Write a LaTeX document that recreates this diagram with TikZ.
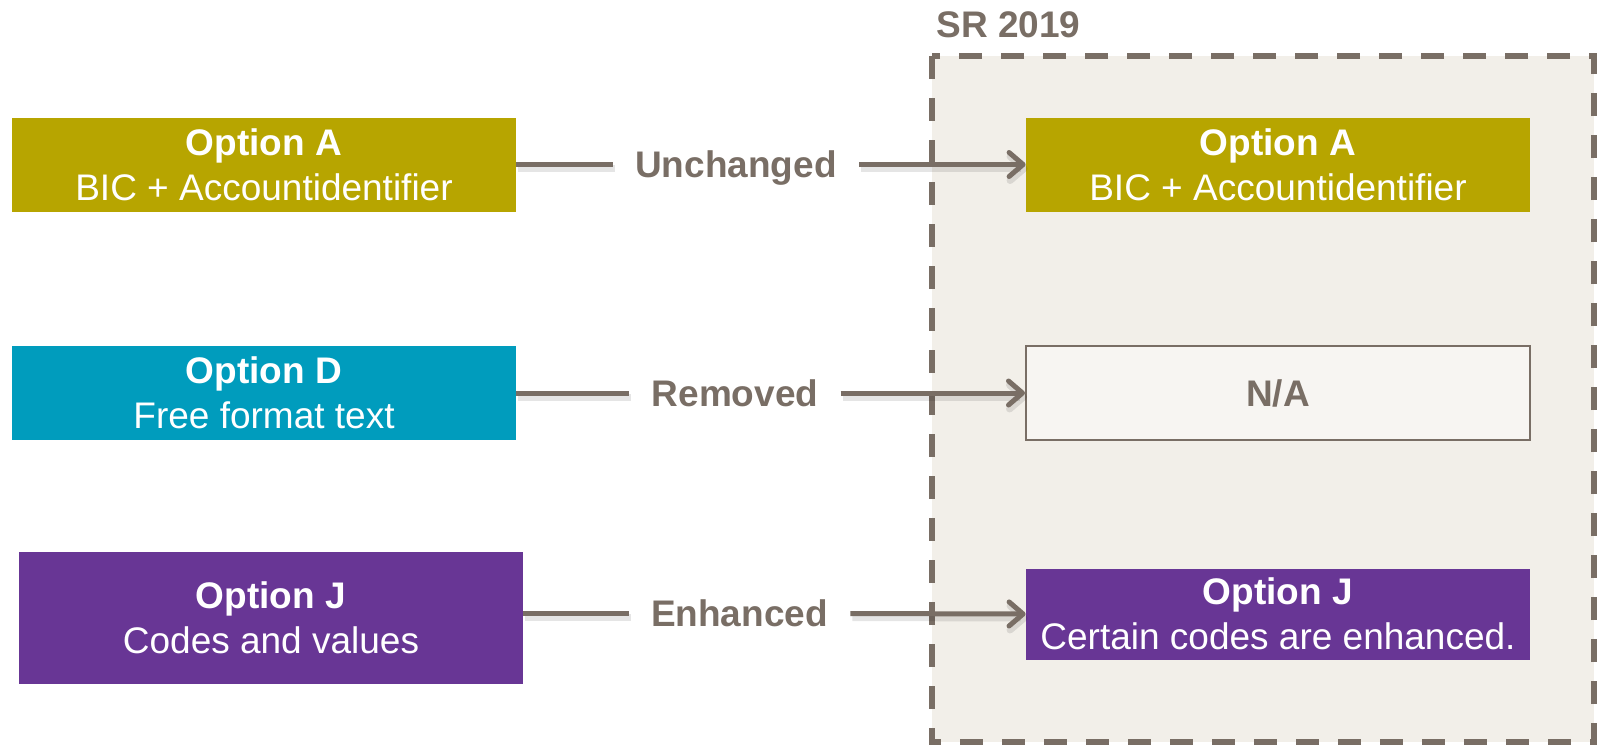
\documentclass[tikz,border=0pt]{standalone}
\usepackage{fontspec}
\setmainfont{Liberation Sans}
\usetikzlibrary{arrows.meta,calc}
\definecolor{cOlive}{HTML}{B7A500}
\definecolor{cTeal}{HTML}{009CBD}
\definecolor{cPurple}{HTML}{683695}
\definecolor{cGrey}{HTML}{796E65}
\definecolor{cBg}{HTML}{F2EFE9}
\begin{document}
\begin{tikzpicture}[x=0.5pt,y=-0.5pt,
  box/.style={rectangle, inner sep=0pt, text=white, align=center,
    font=\fontsize{18.5}{22.5}\selectfont, minimum width=252pt, minimum height=47pt},
  lbl/.style={inner ysep=0pt, inner xsep=11pt, text=cGrey,
    font=\fontsize{18.5}{22.5}\selectfont\bfseries, text height=13.3pt, text depth=0pt},
  conn/.style={draw=cGrey, line width=2.5pt,
    preaction={draw=black, opacity=0.10, line width=3.5pt, transform canvas={shift={(1pt,-2pt)}}}},
  tip/.style={-{Straight Barb[length=7pt,width=12pt,round]}}
]
\useasboundingbox (0,0) rectangle (1602,745);
% SR 2019 area
\draw[cGrey, fill=cBg, line width=3pt, dash pattern=on 11.5pt off 9.5pt] (932,56) rectangle (1594,742);
\node[anchor=base west, text=cGrey, font=\fontsize{18.5}{22.5}\selectfont\bfseries, inner sep=0pt] (sr) at (936,37) {SR 2019};

% left boxes
\node[box, fill=cOlive] (lA) at (264,164.5) {\textbf{Option A}\\BIC + Accountidentifier};
\node[box, fill=cTeal] (lD) at (264,393) {\textbf{Option D}\\Free format text};
\node[box, fill=cPurple, minimum height=66pt] (lJ) at (271,618) {\textbf{Option J}\\Codes and values};

% right boxes
\node[box, fill=cOlive] (rA) at (1278,164.5) {\textbf{Option A}\\BIC + Accountidentifier};
\node[box, fill=cBg!60!white, draw=cGrey, line width=1pt, text=cGrey, font=\fontsize{18.5}{22.5}\selectfont\bfseries] (rD) at (1278,393) {N/A};
\node[box, fill=cPurple, minimum height=45.5pt] (rJ) at (1278,614) {\textbf{Option J}\\Certain codes are enhanced.};

% labels
\node[lbl] (uA) at (736,164.5) {Unchanged};
\node[lbl] (uD) at (735,393) {Removed};
\node[lbl] (uJ) at (739.5,613.5) {Enhanced};

% connectors
\draw[conn] (lA.east) -- (uA.west);
\draw[conn, tip] (uA.east) -- (rA.west);
\draw[conn] (lD.east) -- (uD.west);
\draw[conn, tip] (uD.east) -- (rD.west);
\draw[conn] (lJ.east |- uJ.west) -- (uJ.west);
\draw[conn, tip] (uJ.east) -- (rJ.west);
\end{tikzpicture}
\end{document}
